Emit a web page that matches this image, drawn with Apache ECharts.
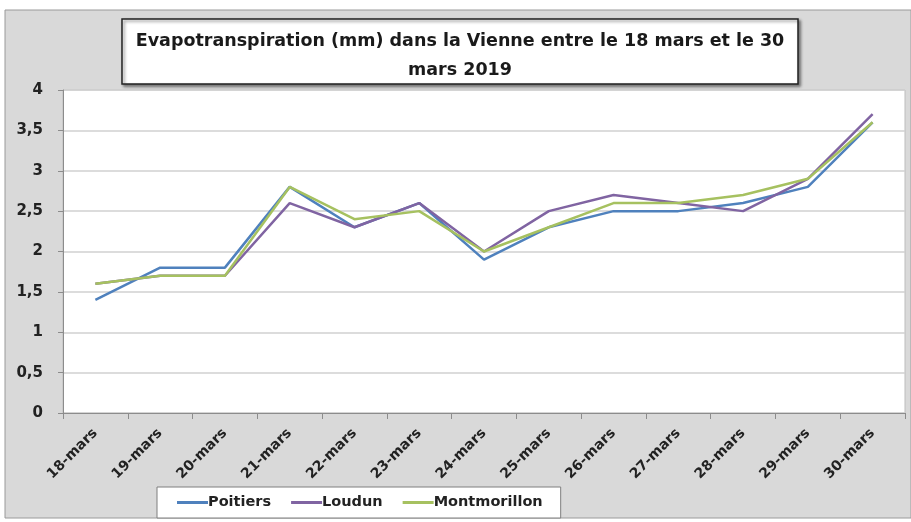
<!DOCTYPE html>
<html>
<head>
<meta charset="UTF-8">
<title>Evapotranspiration Vienne</title>
<script src="https://cdn.jsdelivr.net/npm/echarts@6/dist/echarts.min.js"></script>
<style>
  html, body { margin: 0; padding: 0; background: #fff; }
  #chart { width: 911px; height: 522px; }
</style>
</head>
<body>
<div id="chart"></div>
<script>
// jours
var days = ['18-mars', '19-mars', '20-mars', '21-mars', '22-mars', '23-mars', '24-mars',
  '25-mars', '26-mars', '27-mars', '28-mars', '29-mars', '30-mars'];
// valeurs (mm)
var poitiers = [1.4, 1.8, 1.8, 2.8, 2.3, 2.6, 1.9, 2.3, 2.5, 2.5, 2.6, 2.8, 3.6];
var loudun = [1.6, 1.7, 1.7, 2.6, 2.3, 2.6, 2.0, 2.5, 2.7, 2.6, 2.5, 2.9, 3.7];
var montmorillon = [1.6, 1.7, 1.7, 2.8, 2.4, 2.5, 2.0, 2.3, 2.6, 2.6, 2.7, 2.9, 3.6];
var yTicks = [0, 0.5, 1, 1.5, 2, 2.5, 3, 3.5, 4];

var font = '"DejaVu Sans", sans-serif';
var chart = echarts.init(document.getElementById('chart'));

function serie(name, data, color) {
  return {
    name: name,
    type: 'line',
    data: data,
    symbol: 'none',
    lineStyle: { color: color, width: 2.5 },
    itemStyle: { color: color }
  };
}

chart.setOption({
  animation: false,
  backgroundColor: '#fff',
  graphic: [
    {
      type: 'rect',
      shape: { x: 5, y: 10, width: 906, height: 508 },
      style: { fill: '#d9d9d9', stroke: '#9a9a9a', lineWidth: 1 },
      z: -10
    },
    {
      type: 'group',
      z: 100,
      children: [
        {
          type: 'rect',
          shape: { x: 122, y: 19, width: 676, height: 65 },
          style: {
            fill: '#fff', stroke: '#222', lineWidth: 1.5,
            shadowBlur: 3, shadowOffsetX: 2, shadowOffsetY: 2, shadowColor: 'rgba(0,0,0,0.45)'
          }
        },
        {
          type: 'text',
          x: 460, y: 56,
          style: {
            text: 'Evapotranspiration (mm) dans la Vienne entre le 18 mars et le 30\nmars 2019',
            fill: '#1a1a1a',
            font: 'bold 17.5px ' + font,
            align: 'center',
            verticalAlign: 'middle',
            lineHeight: 29
          }
        }
      ]
    }
  ],
  legend: {
    left: 157,
    top: 487,
    padding: [8, 18, 8, 20],
    backgroundColor: '#fff',
    borderColor: '#7f7f7f',
    borderWidth: 1,
    itemGap: 20,
    itemWidth: 31,
    itemHeight: 3,
    icon: 'rect',
    textStyle: { fontFamily: font, fontWeight: 'bold', fontSize: 14.5, color: '#222', padding: [0, 0, 0, -5] },
    data: ['Poitiers', 'Loudun', 'Montmorillon']
  },
  grid: {
    left: 63,
    right: 6,
    top: 90,
    bottom: 109,
    show: true,
    backgroundColor: '#fff',
    borderColor: '#bdbdbd',
    borderWidth: 1
  },
  xAxis: {
    type: 'category',
    data: days,
    boundaryGap: true,
    axisLine: { lineStyle: { color: '#8c8c8c' } },
    axisTick: { show: true, length: 6, lineStyle: { color: '#8c8c8c' } },
    axisLabel: {
      rotate: 45,
      margin: 18,
      color: '#222',
      fontFamily: font,
      fontWeight: 'bold',
      fontSize: 14
    }
  },
  yAxis: {
    type: 'value',
    min: yTicks[0],
    max: yTicks[yTicks.length - 1],
    interval: 0.5,
    axisLine: { show: true, lineStyle: { color: '#8c8c8c' } },
    axisTick: { show: true, length: 5, lineStyle: { color: '#8c8c8c' } },
    splitLine: { lineStyle: { color: '#d0d0d0', width: 1.5 } },
    axisLabel: {
      margin: 20,
      color: '#222',
      fontFamily: font,
      fontWeight: 'bold',
      fontSize: 15,
      formatter: function (v) { return String(v).replace('.', ','); }
    }
  },
  series: [
    serie('Poitiers', poitiers, '#4f81bd'),
    serie('Loudun', loudun, '#8064a2'),
    serie('Montmorillon', montmorillon, '#a6c160')
  ]
});
</script>
</body>
</html>
